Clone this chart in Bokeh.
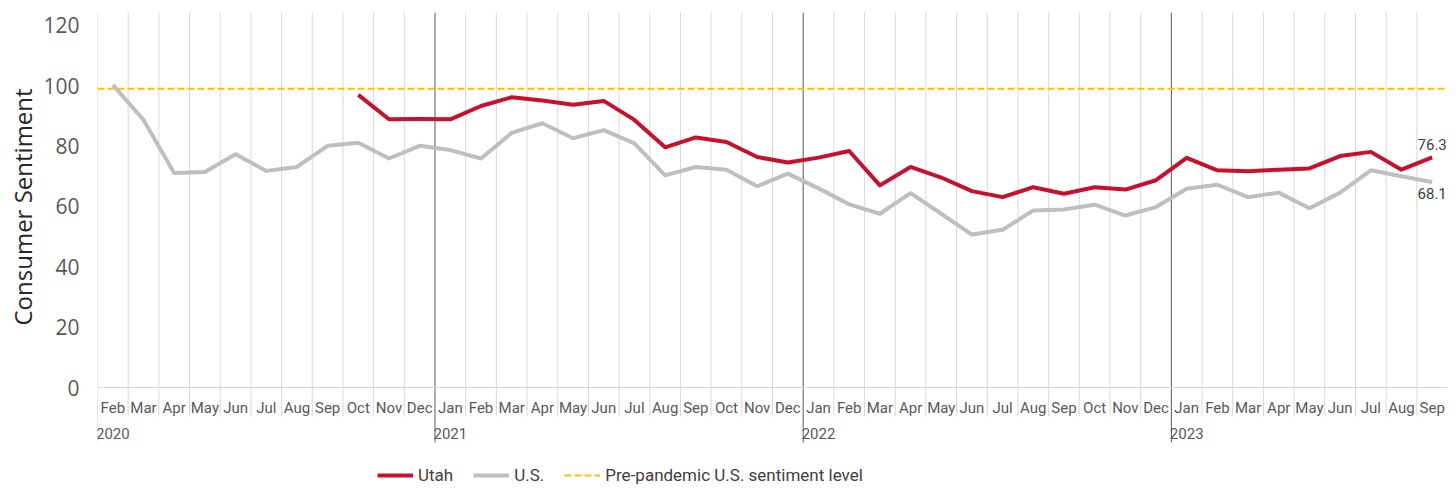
from bokeh.plotting import figure
from bokeh.models import Range1d, FixedTicker, Span, Legend, LegendItem, Title
from bokeh.core.properties import value
from bokeh.embed import file_html
from bokeh.resources import INLINE

# ---------------- data ----------------
month_labels = ["Feb", "Mar", "Apr", "May", "Jun", "Jul", "Aug", "Sep", "Oct", "Nov", "Dec",
                "Jan", "Feb", "Mar", "Apr", "May", "Jun", "Jul", "Aug", "Sep", "Oct", "Nov", "Dec",
                "Jan", "Feb", "Mar", "Apr", "May", "Jun", "Jul", "Aug", "Sep", "Oct", "Nov", "Dec",
                "Jan", "Feb", "Mar", "Apr", "May", "Jun", "Jul", "Aug", "Sep"]
year_labels = ["2020", "2021", "2022", "2023"]

us_values = [100.3, 88.7, 71.1, 71.4, 77.3, 71.8, 73.1, 80.1, 81.1, 75.9, 80.1,
             78.7, 75.9, 84.4, 87.6, 82.6, 85.3, 80.9, 70.3, 73.1, 72.2, 66.7, 70.9,
             66.0, 60.7, 57.6, 64.4, 57.6, 50.7, 52.3, 58.7, 59.0, 60.6, 57.0, 59.8,
             65.9, 67.2, 63.1, 64.6, 59.4, 64.6, 72.0, 70.0, 68.1]
utah_values = [None, None, None, None, None, None, None, None, 97.0, 88.9, 89.0,
               88.9, 93.3, 96.2, 95.1, 93.7, 95.0, 88.7, 79.6, 82.9, 81.4, 76.4, 74.6,
               76.2, 78.4, 67.0, 73.1, 69.6, 65.1, 63.1, 66.4, 64.2, 66.4, 65.6, 68.7,
               76.1, 72.0, 71.7, 72.2, 72.6, 76.7, 78.1, 72.2, 76.3]
pre_pandemic_level = 99.0
y_ticks = [0, 20, 40, 60, 80, 100, 120]

# ---------------- layout constants ----------------
W, H = 1456, 488
LEFT, RIGHT, TOP = 97, 9, 12
FRAME_H = H - TOP
Y_TOP = 124.3
ZERO_PX = 375                      # pixels from frame top down to value 0
PPU = ZERO_PX / Y_TOP              # pixels per data unit
Y_BOTTOM = -(FRAME_H - ZERO_PX) / PPU
MONTH_SEP_PX, YEAR_SEP_PX = 29, 55

n = len(month_labels)
xs = list(range(n))
year_starts = [0] + [i for i, m in enumerate(month_labels) if m == "Jan"]
year_bounds = [i - 0.5 for i in year_starts[1:]]
month_bounds = [i - 0.5 for i in xs]
inner_bounds = [b for b in month_bounds[1:] if b not in year_bounds]

RED = "#C8102E"
GRAY = "#BFBFBF"
GOLD = "#FFC000"
GRID = "#D9D9D9"
DARK = "#595959"
FONT = "Roboto"

p = figure(width=W, height=H, output_backend="svg", toolbar_location=None,
           x_range=Range1d(-0.5, n - 0.5), y_range=Range1d(Y_BOTTOM, Y_TOP),
           min_border_left=LEFT, min_border_right=RIGHT, min_border_top=TOP, min_border_bottom=0,
           x_axis_type=None)
p.outline_line_color = None
p.background_fill_color = "white"
p.border_fill_color = "white"
p.ygrid.grid_line_color = None

# y axis
yax = p.yaxis[0]
yax.ticker = FixedTicker(ticks=y_ticks)
yax.axis_line_color = None
yax.major_tick_line_color = None
yax.minor_tick_line_color = None
yax.major_label_text_font = "Open Sans"
yax.major_label_text_font_size = "21px"
yax.major_label_text_color = DARK
yax.major_label_standoff = 12

ytitle = Title(text="Consumer Sentiment", align="left", offset=163,
               text_font="Open Sans", text_font_size="24px", text_font_style="normal",
               text_color="#262626", standoff=4)
p.add_layout(ytitle, "left")

# category separators and axis line
sep_low_m = -MONTH_SEP_PX / PPU
sep_low_y = -YEAR_SEP_PX / PPU
p.segment(x0=inner_bounds, x1=inner_bounds, y0=[Y_TOP] * len(inner_bounds),
          y1=[sep_low_m] * len(inner_bounds), line_color=GRID, line_width=1)
p.segment(x0=month_bounds[:1], x1=month_bounds[:1], y0=[Y_TOP], y1=[sep_low_y],
          line_color=GRID, line_width=1)
p.add_layout(Span(location=0, dimension="width", line_color=GRID, line_width=1))
p.segment(x0=year_bounds, x1=year_bounds, y0=[Y_TOP] * len(year_bounds),
          y1=[sep_low_y] * len(year_bounds), line_color=DARK, line_width=1)

# category labels
p.text(x=xs, y=[0] * n, text=month_labels, text_font=value(FONT), text_font_size="15px",
       text_color=DARK, text_align="center", text_baseline="middle", y_offset=20)
p.text(x=year_starts, y=[0] * len(year_starts), text=year_labels, text_font=value(FONT),
       text_font_size="15px", text_color=DARK, text_align="center", text_baseline="middle",
       y_offset=46)

# series
dash_r = p.line([-0.5, n - 0.5], [pre_pandemic_level, pre_pandemic_level],
                line_color=GOLD, line_width=2, line_dash="7 3")
us_r = p.line(xs, us_values, line_color=GRAY, line_width=4, line_join="round")
ux = [i for i, v in enumerate(utah_values) if v is not None]
uy = [v for v in utah_values if v is not None]
utah_r = p.line(ux, uy, line_color=RED, line_width=4, line_join="round")

# end labels
p.text(x=[ux[-1]], y=[uy[-1]], text=[f"{uy[-1]:.1f}"], text_font=value(FONT),
       text_font_size="15px", text_color="#404040", text_align="center",
       text_baseline="bottom", y_offset=-7)
p.text(x=[xs[-1]], y=[us_values[-1]], text=[f"{us_values[-1]:.1f}"],
       text_font=value(FONT), text_font_size="15px", text_color="#404040",
       text_align="center", text_baseline="top", y_offset=6)

legend = Legend(items=[LegendItem(label="Utah", renderers=[utah_r]),
                       LegendItem(label="U.S.", renderers=[us_r]),
                       LegendItem(label="Pre-pandemic U.S. sentiment level", renderers=[dash_r])],
                location=(280, 3), orientation="horizontal")
legend.label_text_font = FONT
legend.label_text_font_size = "17px"
legend.label_text_color = "#404040"
legend.glyph_width = 36
legend.label_standoff = 5
legend.spacing = 20
legend.padding = 0
legend.margin = 0
legend.border_line_color = None
legend.background_fill_alpha = 0
p.add_layout(legend)

open("out.html", "w").write(file_html(p, INLINE))
